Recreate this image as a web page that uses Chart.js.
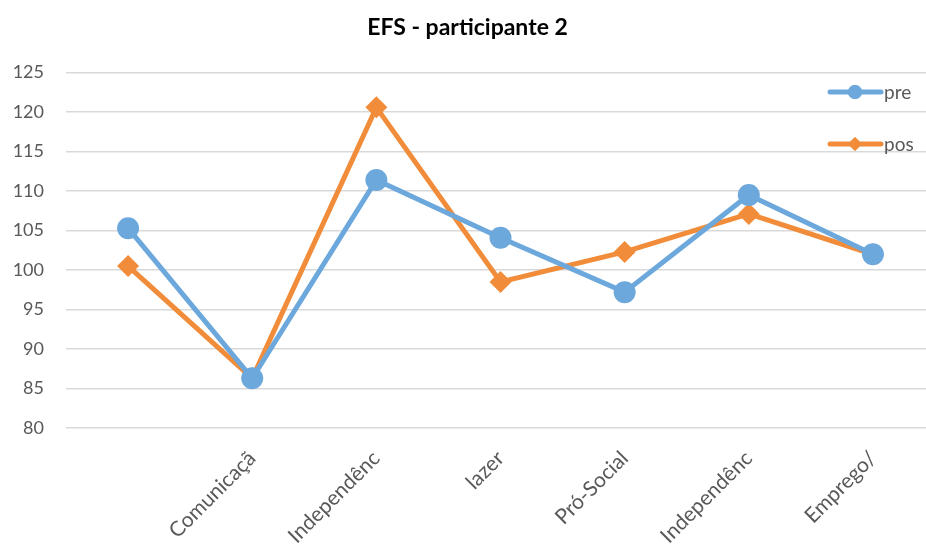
<!DOCTYPE html>
<html>
<head>
<meta charset="utf-8">
<script src="https://cdn.jsdelivr.net/npm/chart.js@4.4.0/dist/chart.umd.min.js"></script>
<style>
  html, body { margin: 0; padding: 0; background: #fff; overflow: hidden; }
  .wrap { width: 926px; height: 546px; overflow: hidden; position: relative; }
  .box { width: 950px; height: 546px; position: absolute; left: 0; top: 0; }
</style>
</head>
<body>
<div class="wrap"><div class="box"><canvas id="lineChart"></canvas></div></div>
<script>
// categories (first one has no label in the picture)
var categories = ["", "Comunicaçã", "Independênc", "lazer", "Pró-Social", "Independênc", "Emprego/"];
var preValues = [105.3, 86.3, 111.4, 104.1, 97.2, 109.5, 102.0];
var posValues = [100.5, 86.3, 120.6, 98.5, 102.3, 107.1, 102.0];
var yTicks = [80, 85, 90, 95, 100, 105, 110, 115, 120, 125];

var blue = '#6CA8DC';
var orange = '#F18D3A';
var gray = '#595959';

// legend drawn inside the plot, top right
var insideLegend = {
    id: 'insideLegend',
    afterDraw: function (chart) {
        var c = chart.ctx;
        var items = [
            { text: 'pre', color: blue, style: 'circle', y: 92 },
            { text: 'pos', color: orange, style: 'rectRot', y: 144 }
        ];
        c.save();
        items.forEach(function (it) {
            c.strokeStyle = it.color;
            c.lineWidth = 5;
            c.lineCap = 'round';
            c.beginPath();
            c.moveTo(830, it.y);
            c.lineTo(881, it.y);
            c.stroke();
            c.fillStyle = it.color;
            Chart.helpers.drawPoint(c, { pointStyle: it.style, radius: 7, rotation: 0, borderWidth: 0 }, 855, it.y);
            c.fill();
            c.fillStyle = gray;
            c.font = '19px Lato';
            c.textBaseline = 'middle';
            c.fillText(it.text, 884, it.y + 1);
        });
        c.restore();
    }
};

var ctx = document.getElementById('lineChart').getContext('2d');
var lineChart = new Chart(ctx, {
    type: 'line',
    data: {
        labels: categories,
        datasets: [{
            label: 'pre',
            data: preValues,
            borderColor: blue,
            backgroundColor: blue,
            borderWidth: 5,
            pointStyle: 'circle',
            pointRadius: 11,
            pointBorderWidth: 0,
            lineTension: 0
        }, {
            label: 'pos',
            data: posValues,
            borderColor: orange,
            backgroundColor: orange,
            borderWidth: 5,
            pointStyle: 'rectRot',
            pointRadius: 11,
            pointBorderWidth: 0,
            lineTension: 0
        }]
    },
    options: {
        responsive: true,
        maintainAspectRatio: false,
        animation: false,
        layout: { padding: { top: 6, left: 0, right: 15 } },
        plugins: {
            legend: { display: false },
            tooltip: { enabled: false },
            title: {
                display: true,
                text: 'EFS - participante 2',
                color: '#000',
                font: { family: 'Lato', size: 23, weight: 'bold' },
                padding: { top: 8, bottom: 31 }
            }
        },
        scales: {
            x: {
                offset: true,
                grid: { display: false },
                border: { display: false },
                ticks: {
                    color: gray,
                    font: { family: 'Lato', size: 21 },
                    minRotation: 45,
                    maxRotation: 45,
                    autoSkip: false,
                    padding: 10
                },
                afterFit: function (scale) { scale.height = 118; }
            },
            y: {
                min: 80,
                max: 125,
                afterBuildTicks: function (scale) {
                    scale.ticks = yTicks.map(function (v) { return { value: v }; });
                },
                grid: { color: '#D9D9D9', lineWidth: 1.5, drawTicks: false },
                border: { display: false },
                ticks: {
                    color: gray,
                    font: { family: 'Lato', size: 18 },
                    padding: 22
                },
                afterFit: function (scale) { scale.width = 66; }
            }
        }
    },
    plugins: [insideLegend]
});
</script>
</body>
</html>
